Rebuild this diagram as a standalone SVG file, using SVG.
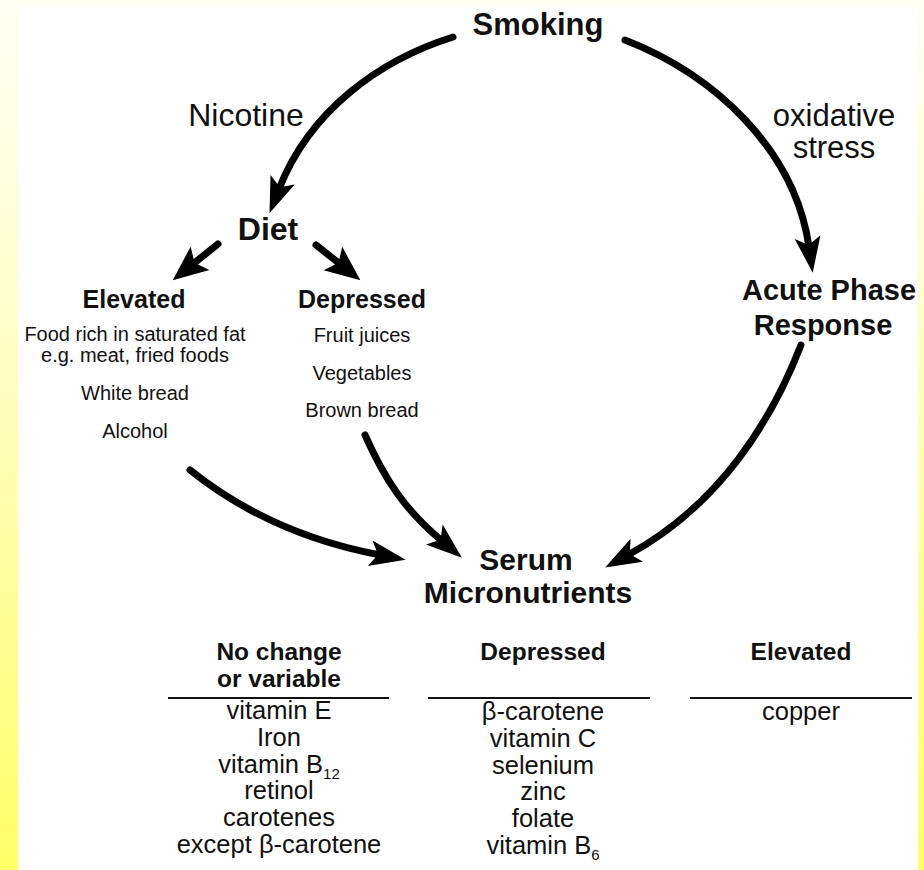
<svg xmlns="http://www.w3.org/2000/svg" width="924" height="870" viewBox="0 0 924 870">
<defs>
<linearGradient id="bg" x1="0" y1="0" x2="0" y2="1">
<stop offset="0" stop-color="#fffff4"/>
<stop offset="0.5" stop-color="#ffffb8"/>
<stop offset="1" stop-color="#ffff66"/>
</linearGradient>
<marker id="ah" viewBox="-8 -15 40 30" markerWidth="40" markerHeight="30" refX="4" refY="0" orient="auto" markerUnits="userSpaceOnUse">
<path d="M30,0 L-6,-13 L2,0 L-6,13 Z" fill="#000"/>
</marker>
<marker id="ahs" viewBox="-8 -16 40 32" markerWidth="40" markerHeight="32" refX="4" refY="0" orient="auto" markerUnits="userSpaceOnUse">
<path d="M30,0 L-5,-15 L2,0 L-5,15 Z" fill="#000"/>
</marker>
</defs>
<style>
text{font-family:"Liberation Sans",Arial,sans-serif;fill:#111;text-anchor:middle}
.b{font-weight:bold}
.big{font-size:31px}
.sub{font-size:25px}
.food{font-size:20px}
.hd{font-size:24.5px;font-weight:bold}
.it{font-size:25.5px}
.conn path{fill:none;stroke:#000;stroke-width:7;stroke-linecap:round}
.rule{stroke:#111;stroke-width:2}
</style>
<rect x="0" y="0" width="924" height="870" fill="url(#bg)"/>
<rect x="18" y="7" width="900" height="863" fill="#fff"/>

<g id="connectors" class="conn">
<path d="M453,37 C380,60 310,110 279,189" marker-end="url(#ah)"/>
<path d="M625,40 C715,75 795,150 809,247" marker-end="url(#ah)"/>
<path d="M801,345 C772,420 720,505 628,555" marker-end="url(#ah)"/>
<path d="M190,470 C240,510 300,540 380,555" marker-end="url(#ah)"/>
<path d="M365,435 C385,480 405,510 442,541" marker-end="url(#ah)"/>
<path d="M218,244 L193,264" stroke-width="9" marker-end="url(#ahs)"/>
<path d="M316,245 L340,264" stroke-width="9" marker-end="url(#ahs)"/>
</g>

<g id="label-nicotine"><text font-size="32" x="246" y="126">Nicotine</text></g>
<g id="label-oxidative"><text class="big" x="834" y="126">oxidative</text><text class="big" x="834" y="158">stress</text></g>

<g id="smoking"><text class="big b" x="538" y="35">Smoking</text></g>
<g id="diet"><text class="b" font-size="32" x="268" y="240">Diet</text></g>

<g id="diet-elevated">
<text class="sub b" x="134" y="308">Elevated</text>
<text class="food" x="135" y="341">Food rich in saturated fat</text>
<text class="food" x="135" y="362">e.g. meat, fried foods</text>
<text class="food" x="135" y="400">White bread</text>
<text class="food" x="135" y="438">Alcohol</text>
</g>

<g id="diet-depressed">
<text class="sub b" x="362" y="308">Depressed</text>
<text class="food" x="362" y="342">Fruit juices</text>
<text class="food" x="362" y="380">Vegetables</text>
<text class="food" x="362" y="417">Brown bread</text>
</g>

<g id="acute-phase">
<text class="b" font-size="29" x="829" y="300">Acute Phase</text>
<text class="b" font-size="29" x="823" y="335">Response</text>
</g>

<g id="serum">
<text class="b" font-size="30" x="526" y="570">Serum</text>
<text class="b" font-size="30" x="528" y="603">Micronutrients</text>
</g>

<g id="col-nochange">
<text class="hd" x="279" y="660">No change</text>
<text class="hd" x="279" y="687">or variable</text>
<line class="rule" x1="168" y1="698" x2="389" y2="698"/>
<text class="it" x="279" y="719">vitamin E</text>
<text class="it" x="279" y="746">Iron</text>
<text class="it" x="279" y="773">vitamin B<tspan font-size="15" dy="6">12</tspan></text>
<text class="it" x="279" y="799">retinol</text>
<text class="it" x="279" y="826">carotenes</text>
<text class="it" x="279" y="853">except β-carotene</text>
</g>

<g id="col-depressed">
<text class="hd" x="543" y="660">Depressed</text>
<line class="rule" x1="428" y1="698" x2="650" y2="698"/>
<text class="it" x="543" y="720">β-carotene</text>
<text class="it" x="543" y="747">vitamin C</text>
<text class="it" x="543" y="774">selenium</text>
<text class="it" x="543" y="800">zinc</text>
<text class="it" x="543" y="827">folate</text>
<text class="it" x="543" y="854">vitamin B<tspan font-size="15" dy="6">6</tspan></text>
</g>

<g id="col-elevated">
<text class="hd" x="801" y="660">Elevated</text>
<line class="rule" x1="690" y1="698" x2="912" y2="698"/>
<text class="it" x="801" y="720">copper</text>
</g>
</svg>
